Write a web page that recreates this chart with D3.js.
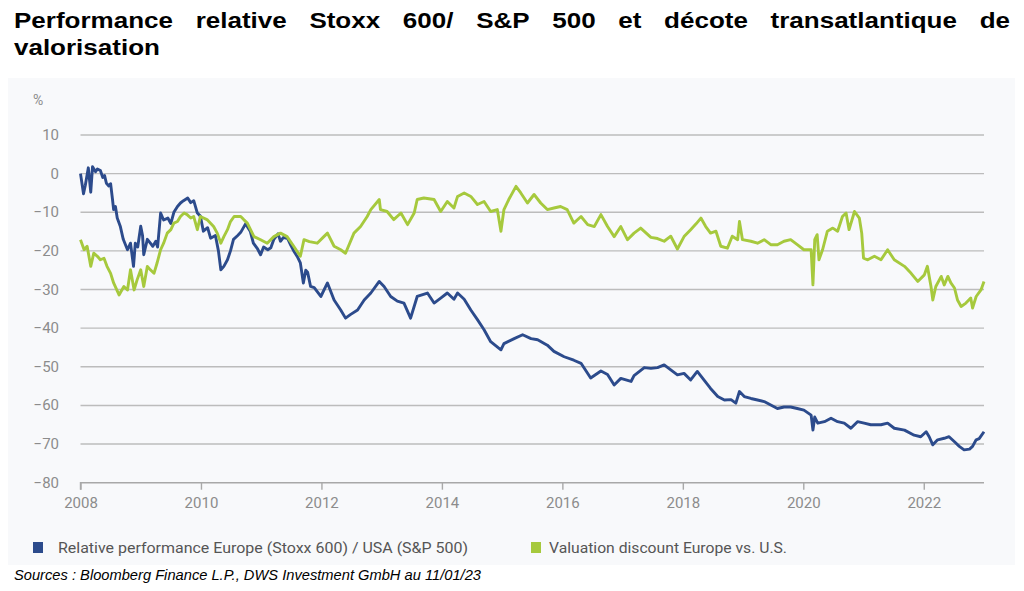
<!DOCTYPE html>
<html><head><meta charset="utf-8">
<script src="https://cdn.jsdelivr.net/npm/d3@7"></script>
<style>body{margin:0;background:#fff;} svg{display:block;}</style>
</head><body><svg id="c" width="1024" height="591"></svg>
<script>
// ---------- data ----------
const titleLine1 = ["Performance","relative","Stoxx","600/","S&P","500","et","décote","transatlantique","de"];
const titleLine2 = "valorisation";
const sourceText = "Sources : Bloomberg Finance L.P., DWS Investment GmbH au 11/01/23";
const seriesNames = ["Relative performance Europe (Stoxx 600) / USA (S&P 500)", "Valuation discount Europe vs. U.S."];
const xTicks = [2008, 2010, 2012, 2014, 2016, 2018, 2020, 2022];
const yTicks = [10, 0, -10, -20, -30, -40, -50, -60, -70, -80];
const xDomain = [2008, 2023];
const yDomain = [-80, 10];

// Relative performance Stoxx 600 / S&P 500 (%), [year, value]
const perfSeries = [[2008.00,0],[2008.05,-5.2],[2008.08,-3],[2008.13,1.5],[2008.17,-4.8],[2008.20,1.8],[2008.25,0.5],[2008.28,1.2],[2008.33,0.8],[2008.37,-1],[2008.40,-0.5],[2008.43,-2.5],[2008.47,-3.2],[2008.50,-2.6],[2008.53,-6.5],[2008.55,-9.3],[2008.58,-8.5],[2008.61,-11.5],[2008.66,-13.6],[2008.71,-17],[2008.78,-19.7],[2008.83,-18],[2008.88,-24],[2008.91,-18],[2008.95,-19],[2009.00,-13.6],[2009.03,-16],[2009.05,-21],[2009.08,-19],[2009.11,-17],[2009.16,-18],[2009.20,-18.8],[2009.25,-17.5],[2009.28,-19],[2009.33,-10.2],[2009.38,-12],[2009.45,-11.5],[2009.50,-12.9],[2009.55,-10],[2009.61,-8.5],[2009.66,-7.6],[2009.71,-7],[2009.78,-6.3],[2009.83,-7.5],[2009.88,-7],[2009.94,-10.2],[2009.99,-11],[2010.04,-14.9],[2010.11,-14],[2010.16,-16.7],[2010.24,-16],[2010.29,-20],[2010.33,-24.9],[2010.38,-24],[2010.44,-22.3],[2010.49,-20],[2010.54,-17],[2010.61,-16],[2010.66,-15.2],[2010.74,-13],[2010.82,-15],[2010.87,-18],[2010.94,-19.5],[2010.99,-21],[2011.04,-19],[2011.11,-19.7],[2011.16,-19.2],[2011.21,-17],[2011.28,-15.6],[2011.32,-17.5],[2011.37,-16.5],[2011.44,-16.8],[2011.49,-18.5],[2011.54,-20],[2011.60,-21.5],[2011.65,-23.1],[2011.70,-28.3],[2011.74,-25],[2011.77,-25.5],[2011.82,-29.2],[2011.88,-29.5],[2011.99,-31.8],[2012.10,-28.3],[2012.21,-32.7],[2012.32,-35.3],[2012.40,-37.4],[2012.48,-36.5],[2012.60,-35.3],[2012.71,-32.7],[2012.82,-30.9],[2012.96,-27.9],[2013.04,-29.2],[2013.15,-31.8],[2013.26,-33],[2013.37,-33.5],[2013.48,-37.4],[2013.59,-31.8],[2013.76,-30.9],[2013.87,-33.5],[2013.98,-32.2],[2014.09,-30.9],[2014.20,-32.5],[2014.26,-30.9],[2014.37,-32.5],[2014.48,-35.3],[2014.59,-37.8],[2014.70,-40.4],[2014.81,-43.5],[2014.98,-45.6],[2015.03,-44],[2015.20,-42.7],[2015.34,-41.7],[2015.48,-42.7],[2015.59,-43],[2015.75,-44.4],[2015.86,-46],[2016.03,-47.4],[2016.19,-48.3],[2016.31,-49.1],[2016.47,-52.9],[2016.64,-51.1],[2016.75,-52],[2016.86,-54.7],[2016.97,-53],[2017.14,-53.8],[2017.19,-52.3],[2017.36,-50.2],[2017.47,-50.4],[2017.58,-50.2],[2017.69,-49.5],[2017.80,-50.8],[2017.91,-52.1],[2018.02,-51.7],[2018.13,-53.4],[2018.24,-51.2],[2018.35,-53.4],[2018.46,-55.6],[2018.58,-57.7],[2018.69,-58.6],[2018.80,-58.5],[2018.88,-59.4],[2018.94,-56.4],[2019.02,-57.7],[2019.13,-58.2],[2019.24,-58.6],[2019.35,-59],[2019.46,-59.9],[2019.57,-60.8],[2019.68,-60.4],[2019.79,-60.4],[2019.90,-60.8],[2020.01,-61.2],[2020.13,-62.5],[2020.16,-66.4],[2020.19,-63],[2020.24,-64.6],[2020.35,-64.2],[2020.46,-63.3],[2020.57,-64.2],[2020.68,-64.6],[2020.79,-65.9],[2020.90,-64.2],[2021.01,-64.6],[2021.12,-65],[2021.29,-65],[2021.40,-64.6],[2021.51,-65.9],[2021.68,-66.4],[2021.84,-67.7],[2021.95,-68.1],[2022.04,-66.8],[2022.09,-68.1],[2022.15,-70.2],[2022.23,-68.9],[2022.34,-68.5],[2022.42,-68.1],[2022.51,-69.4],[2022.59,-70.6],[2022.67,-71.5],[2022.76,-71.3],[2022.81,-70.6],[2022.87,-68.9],[2022.92,-68.6],[2023.00,-66.8]];

// Valuation discount Europe vs. U.S. (%), [year, value]
const valSeries = [[2008.00,-17.1],[2008.06,-19.7],[2008.11,-18.8],[2008.17,-24],[2008.22,-20.6],[2008.28,-21.4],[2008.33,-22.3],[2008.39,-21.9],[2008.44,-24],[2008.50,-25.8],[2008.55,-28.3],[2008.64,-31.4],[2008.72,-29.2],[2008.78,-30.1],[2008.83,-24.9],[2008.89,-30.1],[2008.94,-27.5],[2009.00,-24.9],[2009.05,-29.2],[2009.11,-24],[2009.16,-24.9],[2009.22,-25.8],[2009.27,-23.2],[2009.33,-19.7],[2009.38,-18],[2009.44,-15.4],[2009.50,-14.5],[2009.55,-12.8],[2009.61,-12.4],[2009.66,-11.1],[2009.72,-10.2],[2009.77,-10.6],[2009.83,-11.5],[2009.88,-11.1],[2009.94,-14.5],[2009.99,-11.1],[2010.10,-11.9],[2010.21,-13.7],[2010.27,-15.4],[2010.33,-18],[2010.38,-16.3],[2010.44,-14.5],[2010.49,-12.4],[2010.55,-11.1],[2010.66,-11.1],[2010.71,-11.9],[2010.77,-12.8],[2010.88,-16.3],[2010.99,-17.1],[2011.10,-18],[2011.21,-16.3],[2011.32,-15.4],[2011.43,-16.3],[2011.54,-18.8],[2011.65,-21.4],[2011.71,-17.1],[2011.80,-17.6],[2011.93,-18],[2012.04,-16.3],[2012.10,-15.4],[2012.21,-18.8],[2012.32,-19.7],[2012.40,-20.6],[2012.54,-15.4],[2012.65,-13.7],[2012.76,-11.1],[2012.82,-9.3],[2012.96,-6.7],[2012.98,-9.3],[2013.09,-9.8],[2013.20,-11.9],[2013.32,-10.2],[2013.43,-13.2],[2013.54,-10.2],[2013.59,-6.7],[2013.70,-6.3],[2013.87,-6.7],[2013.98,-9.8],[2014.09,-7.2],[2014.20,-8.9],[2014.26,-5.9],[2014.37,-5],[2014.48,-5.9],[2014.59,-8],[2014.70,-7.2],[2014.81,-9.8],[2014.92,-9.3],[2014.98,-14.9],[2015.03,-9.3],[2015.11,-6.7],[2015.23,-3.3],[2015.31,-5],[2015.42,-7.6],[2015.53,-5.4],[2015.64,-7.6],[2015.75,-9.3],[2015.86,-8.9],[2015.97,-8.5],[2016.08,-9.3],[2016.19,-12.8],[2016.31,-11.1],[2016.42,-13.2],[2016.53,-13.7],[2016.64,-10.6],[2016.75,-13.7],[2016.86,-16.3],[2016.97,-13.7],[2017.08,-17.1],[2017.19,-15.4],[2017.30,-14.1],[2017.47,-16.5],[2017.58,-16.8],[2017.69,-17.5],[2017.80,-16.2],[2017.91,-19.5],[2018.02,-16.3],[2018.13,-14.5],[2018.22,-13],[2018.30,-11.5],[2018.38,-13.7],[2018.46,-15.4],[2018.55,-14.9],[2018.63,-18.8],[2018.74,-19.3],[2018.82,-16.2],[2018.91,-17.1],[2018.94,-12.4],[2018.99,-17.1],[2019.13,-17.5],[2019.24,-18],[2019.35,-17.1],[2019.46,-18.4],[2019.57,-18.4],[2019.68,-17.5],[2019.79,-17.1],[2019.90,-18.4],[2020.01,-19.7],[2020.13,-19.7],[2020.16,-28.8],[2020.19,-17.1],[2020.23,-15.8],[2020.26,-22.3],[2020.32,-19.7],[2020.40,-14.9],[2020.49,-14.1],[2020.57,-14.9],[2020.65,-11.1],[2020.71,-10.2],[2020.76,-14.5],[2020.85,-9.8],[2020.93,-11.5],[2020.97,-15.4],[2021.00,-21.9],[2021.07,-22.3],[2021.18,-21.4],[2021.29,-22.3],[2021.40,-19.7],[2021.51,-22.3],[2021.68,-24],[2021.79,-25.8],[2021.90,-27.9],[2022.01,-26.2],[2022.06,-24],[2022.12,-29.2],[2022.15,-32.7],[2022.20,-29.2],[2022.29,-26.6],[2022.34,-28.8],[2022.40,-26.6],[2022.45,-28.3],[2022.51,-29.6],[2022.56,-32.7],[2022.62,-34.4],[2022.70,-33.5],[2022.78,-32.2],[2022.81,-34.8],[2022.87,-31.8],[2022.95,-30.1],[2023.00,-27.9]];

const colors = ["#2c4b8c", "#a6c93d"];

// ---------- drawing ----------
const svg = d3.select("#c");
svg.append("rect").attr("x",0).attr("y",0).attr("width",1024).attr("height",591).attr("fill","#ffffff");
svg.append("rect").attr("x",8).attr("y",78).attr("width",1007).attr("height",487).attr("fill","#f8f9fb");

const x = d3.scaleLinear().domain(xDomain).range([80.5, 984]);
const y = d3.scaleLinear().domain(yDomain).range([482.7, 135]);

// title: justified first line, horizontally stretched bold sans
const tFont = "'Liberation Sans', Arial, sans-serif";
const fs = 22;
const tg = svg.append("g");
const words = tg.selectAll("text.tw").data(titleLine1).join("text")
  .attr("class","tw").attr("y",28.5)
  .attr("font-family",tFont).attr("font-weight","bold").attr("font-size",fs).attr("fill","#000")
  .text(d=>d);
const widths = [];
words.each(function(){ widths.push(this.getComputedTextLength()); });
const sx = 159 / widths[0];
tg.attr("transform",`scale(${sx},1)`);
const left = 14, right = 1010;
const gap = (right - left - d3.sum(widths)*sx) / (titleLine1.length - 1);
let cx = left;
words.each(function(d,i){ d3.select(this).attr("x", cx/sx); cx += widths[i]*sx + gap; });
tg.append("text").attr("x",14/sx).attr("y",55)
  .attr("font-family",tFont).attr("font-weight","bold").attr("font-size",fs).attr("fill","#000")
  .text(titleLine2);

// gridlines
const cFont = "Roboto, 'Liberation Sans', sans-serif";
svg.append("g").selectAll("line").data(yTicks.filter(v=>v!==-80)).join("line")
  .attr("x1",x(2008)).attr("x2",x(2023)).attr("y1",d=>y(d)).attr("y2",d=>y(d))
  .attr("stroke","#bcbcbc").attr("stroke-width",1.4);

// y labels
svg.append("g").selectAll("text").data(yTicks).join("text")
  .attr("x",59).attr("y",d=>y(d)+5).attr("text-anchor","end")
  .attr("font-family",cFont).attr("font-size",15).attr("fill","#8c8c8c")
  .text(d=> d<0 ? "\u2212"+Math.abs(d) : d);
svg.append("text").attr("x",33).attr("y",105).attr("font-family",cFont).attr("font-size",14).attr("fill","#8c8c8c").text("%");

// x axis
const xAxis = d3.axisBottom(x).tickValues(xTicks).tickFormat(d3.format("d")).tickSize(7).tickPadding(8);
const gx = svg.append("g").attr("transform",`translate(0,${y(-80)})`).call(xAxis);
gx.select(".domain").attr("stroke","#a8a8a8").attr("stroke-width",1.4).attr("d",`M${x(2008)},7V0H${x(2023)}`);
gx.selectAll(".tick line").attr("stroke","#a8a8a8").attr("stroke-width",1.4);
gx.selectAll(".tick text").attr("font-family",cFont).attr("font-size",15).attr("fill","#8c8c8c");

// lines
const line = d3.line().x(d=>x(d[0])).y(d=>y(d[1])).curve(d3.curveLinear);
[perfSeries, valSeries].forEach((s,i)=>{
  svg.append("path").datum(s).attr("d",line).attr("fill","none")
    .attr("stroke",colors[i]).attr("stroke-width",2.9).attr("stroke-linejoin","round");
});

// legend
const legendPos = [{sx:33, tx:58, w:410},{sx:531, tx:549, w:238}];
seriesNames.forEach((n,i)=>{
  svg.append("rect").attr("x",legendPos[i].sx).attr("y",542).attr("width",10).attr("height",11).attr("fill",colors[i]);
  svg.append("text").attr("x",legendPos[i].tx).attr("y",553)
    .attr("font-family",cFont).attr("font-size",14).attr("fill","#555")
    .attr("textLength",legendPos[i].w).attr("lengthAdjust","spacingAndGlyphs").text(n);
});

// source
svg.append("text").attr("x",14).attr("y",580)
  .attr("font-family","'Liberation Sans', Arial, sans-serif").attr("font-style","italic").attr("font-size",15).attr("fill","#000")
  .attr("textLength",467).attr("lengthAdjust","spacingAndGlyphs").text(sourceText);
</script></body></html>
